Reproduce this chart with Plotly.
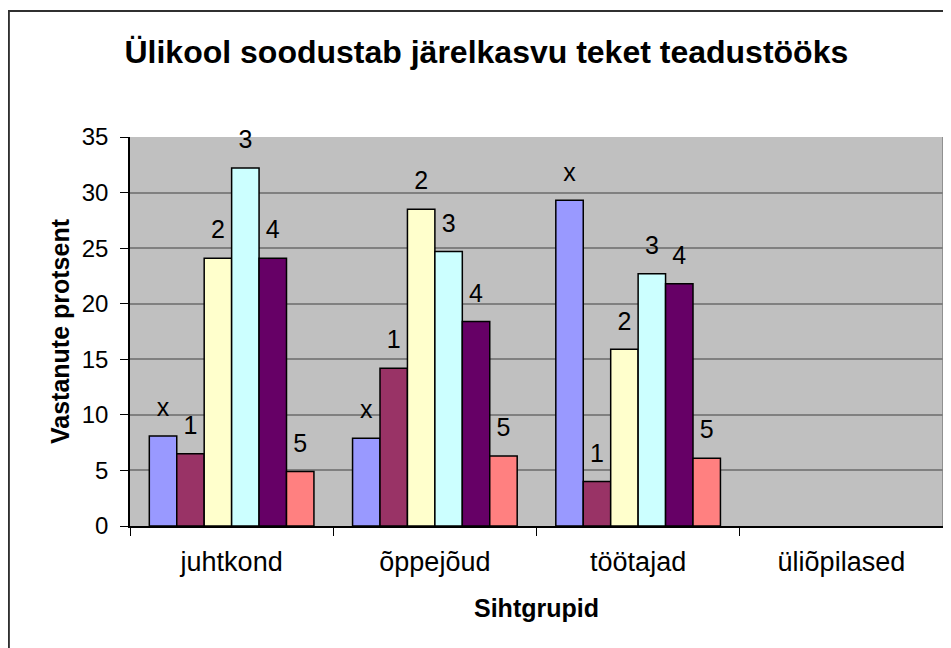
import plotly.graph_objects as go

categories = ["juhtkond", "õppejõud", "töötajad", "üliõpilased"]
series_names = ["x", "1", "2", "3", "4", "5"]
values_x = [8.1, 7.9, 29.3, None]
values_1 = [6.5, 14.2, 4.0, None]
values_2 = [24.1, 28.5, 15.9, None]
values_3 = [32.2, 24.7, 22.7, None]
values_4 = [24.1, 18.4, 21.8, None]
values_5 = [4.9, 6.3, 6.1, None]
series_values = [values_x, values_1, values_2, values_3, values_4, values_5]
colors = ["#9999FF", "#993366", "#FFFFCC", "#CCFFFF", "#660066", "#FF8080"]

FONT = "Liberation Sans, Arial, sans-serif"
GAP = 0.19

fig = go.Figure()

for name, vals, col in zip(series_names, series_values, colors):
    fig.add_trace(go.Bar(
        x=categories, y=vals, name=name,
        marker=dict(color=col, line=dict(color="black", width=1.5)),
        showlegend=False, hoverinfo="skip",
    ))

# series names written above each bar
for name, vals in zip(series_names, series_values):
    fig.add_trace(go.Scatter(
        x=categories, y=vals, mode="markers+text",
        text=[name if v is not None else "" for v in vals],
        textposition="top center",
        textfont=dict(family=FONT, size=25, color="black"),
        marker=dict(size=20, opacity=0),
        cliponaxis=False, showlegend=False, hoverinfo="skip",
    ))

# the page body adds an 8px offset, margins are reduced to compensate
fig.update_layout(
    width=951, height=648,
    margin=dict(l=122, r=16, t=129, b=130),
    paper_bgcolor="white", plot_bgcolor="#C0C0C0",
    barmode="group", bargap=GAP,
    scattermode="group", scattergap=GAP,
    font=dict(family=FONT, color="black"),
    title=dict(
        text="<b>Ülikool soodustab järelkasvu teket teadustööks</b>",
        x=0.503, xanchor="center", y=0.932, yanchor="middle",
        font=dict(family=FONT, size=32, color="black"),
    ),
    xaxis=dict(
        type="category", range=[-0.5, 3.5],
        tickson="boundaries", ticks="outside", ticklen=8, tickcolor="black",
        ticklabelstandoff=11,
        showline=True, linecolor="black", linewidth=1.5,
        showgrid=False,
        tickfont=dict(family=FONT, size=27),
        title=dict(text="<b>Sihtgrupid</b>", font=dict(family=FONT, size=25), standoff=23),
    ),
    yaxis=dict(
        range=[0, 35], dtick=5,
        ticks="outside", ticklen=8, tickcolor="black",
        ticklabelstandoff=7,
        showline=True, linecolor="black", linewidth=1.5,
        showgrid=True, gridcolor="#808080", gridwidth=1.5,
        zeroline=False,
        tickfont=dict(family=FONT, size=24),
        title=dict(text="<b>Vastanute protsent</b>", font=dict(family=FONT, size=25), standoff=5),
    ),
    shapes=[
        dict(type="line", xref="paper", yref="paper", x0=1, x1=1, y0=0, y1=1,
             line=dict(color="#808080", width=1.5)),
        dict(type="rect", xref="paper", yref="paper", x0=-0.149, x1=1.2, y0=-0.5, y1=1.324,
             line=dict(color="#303030", width=2)),
    ],
)

fig.write_html("out.html")
